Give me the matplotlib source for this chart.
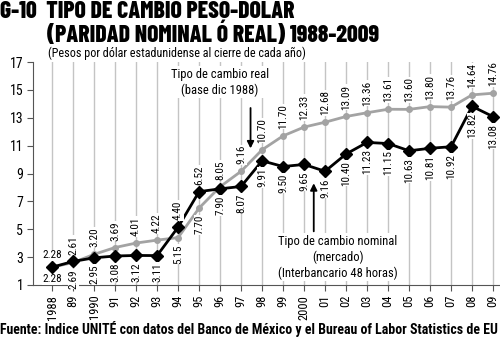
#!/usr/bin/env python3
"""
Tipo de cambio peso-dolar, nominal y real, 1988-2009.
"""
import matplotlib
matplotlib.use("Agg")
import matplotlib.pyplot as plt

plt.rcParams['font.family'] = ['Roboto Condensed', 'DejaVu Sans']
TITLE_FONT = ['Barlow Condensed', 'Roboto Condensed', 'DejaVu Sans']

years = list(range(1988, 2010))
year_labels = ["1988", "89", "1990", "91", "92", "93", "94", "95", "96", "97",
               "98", "99", "2000", "01", "02", "03", "04", "05", "06", "07",
               "08", "09"]

# Pesos por dolar al cierre de cada año
nominal = [2.28, 2.69, 2.95, 3.08, 3.12, 3.11, 5.15, 7.70, 7.90, 8.07, 9.91,
           9.50, 9.65, 9.16, 10.40, 11.23, 11.15, 10.63, 10.81, 10.92, 13.82,
           13.08]
real = [2.28, 2.61, 3.20, 3.69, 4.01, 4.22, 4.40, 6.52, 8.05, 9.16, 10.70,
        11.70, 12.33, 12.68, 13.09, 13.36, 13.61, 13.60, 13.80, 13.76, 14.64,
        14.76]

y_ticks = [1, 3, 5, 7, 9, 11, 13, 15, 17]

W, H = 500, 339
fig = plt.figure(figsize=(W / 100, H / 100), dpi=100)
ax = fig.add_axes([33 / W, (H - 285) / H, (W - 33) / W, 223 / H])

grid_c = "#c4c4c4"
real_c = "#a3a3a3"

for y in years:
    ax.axvline(y, color=grid_c, lw=1.0, zorder=0)

ax.plot(years, real, color=real_c, lw=2.0, marker="o", ms=4,
        mfc=real_c, mec=real_c, zorder=2)
ax.plot(years, nominal, color="black", lw=2.0, marker="D", ms=6.5,
        zorder=3)

# value labels: real above the pair, nominal below it
box = dict(facecolor="white", edgecolor="none", pad=0.3)
for i, y in enumerate(years):
    hi = max(real[i], nominal[i])
    lo = min(real[i], nominal[i])
    rot = 0 if i == 0 else 90
    ax.annotate("%.2f" % real[i], (y, hi), xytext=(0, 5),
                textcoords="offset points", ha="center", va="bottom",
                rotation=rot, fontsize=8, bbox=box, zorder=4)
    ax.annotate("%.2f" % nominal[i], (y, lo), xytext=(0, -5),
                textcoords="offset points", ha="center", va="top",
                rotation=rot, fontsize=8, bbox=box, zorder=4)

# notes with arrows
ax.text(1996.0, 15.55, "Tipo de cambio real\n(base dic 1988)",
        ha="center", va="center", fontsize=9, linespacing=1.25,
        bbox=dict(facecolor="white", edgecolor="none", pad=1), zorder=4)
ax.annotate("", xy=(1997.45, 10.8), xytext=(1997.45, 13.7),
            arrowprops=dict(arrowstyle="-|>", color="black", lw=1.3,
                            mutation_scale=10, shrinkA=0, shrinkB=0),
            zorder=5)
ax.text(2001.6, 3.0,
        "Tipo de cambio nominal\n(mercado)\n(Interbancario 48 horas)",
        ha="center", va="center", fontsize=9, linespacing=1.25,
        bbox=dict(facecolor="white", edgecolor="none", pad=1), zorder=4)
ax.annotate("", xy=(2000.46, 8.3), xytext=(2000.46, 4.85),
            arrowprops=dict(arrowstyle="-|>", color="black", lw=1.3,
                            mutation_scale=10, shrinkA=0, shrinkB=0),
            zorder=5)

ax.set_xlim(1987.09, 2009.33)
ax.set_ylim(1, 17)
ax.set_yticks(y_ticks)
ax.set_yticklabels([str(t) for t in y_ticks], fontsize=10)
ax.set_xticks(years)
ax.set_xticklabels(year_labels, rotation=90, fontsize=9, va="top")
ax.tick_params(axis="y", length=4, width=0.8, color="#555555", pad=3)
ax.tick_params(axis="x", length=4, width=0.8, color="#555555", pad=3)
for side in ("top", "right"):
    ax.spines[side].set_visible(False)
for side in ("left", "bottom"):
    ax.spines[side].set_color("#555555")
    ax.spines[side].set_linewidth(0.8)

fig.text(0, 1 - 1 / H, "G-10  TIPO DE CAMBIO PESO-DOLAR", ha="left",
         va="top", fontsize=17, fontweight=800, family=TITLE_FONT)
fig.text(47 / W, 1 - 22 / H, "(PARIDAD NOMINAL Ó REAL) 1988-2009",
         ha="left", va="top", fontsize=17, fontweight=800, family=TITLE_FONT)
fig.text(48 / W, 1 - 47 / H,
         "(Pesos por dólar estadunidense al cierre de cada año)",
         ha="left", va="top", fontsize=8.7)
fig.text(0, 2 / H,
         "Fuente: Indice UNITÉ con datos del Banco de México y el Bureau "
         "of Labor Statistics de EU",
         ha="left", va="bottom", fontsize=10, fontweight="bold")

fig.savefig("out.png", dpi=100)
